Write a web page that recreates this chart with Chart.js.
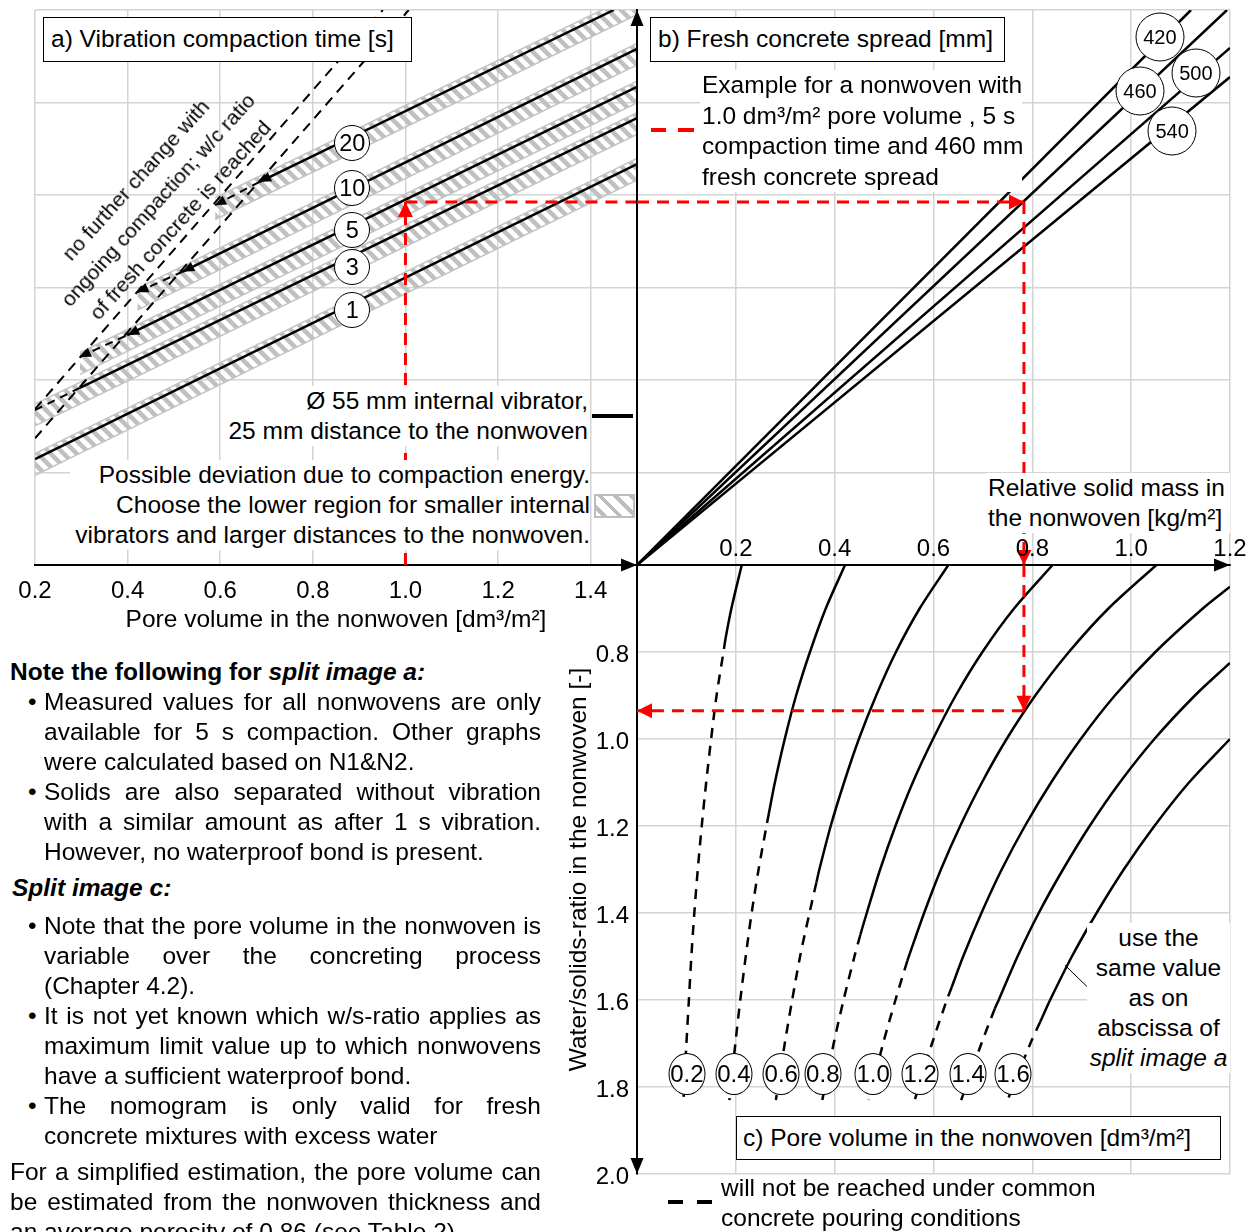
<!DOCTYPE html>
<html>
<head>
<meta charset="utf-8">
<title>Nomogram</title>
<script src="https://cdn.jsdelivr.net/npm/chart.js"></script>
<style>
  body { margin: 0; background: #fff; }
  #page { position: relative; width: 1252px; height: 1232px; overflow: hidden; font-family: "Liberation Sans", Arial, sans-serif; color: #000; }
  .wrap { position: absolute; }
  .wrap canvas { display: block; }
  .t { position: absolute; font-size: 24.5px; line-height: 30px; white-space: nowrap; z-index: 5; }
  .bg { background: #fff; }
  .box { position: absolute; box-sizing: border-box; border: 1.5px solid #000; background: #fff; font-size: 24.5px; line-height: 41px; padding-left: 7px; white-space: nowrap; z-index: 5; }
  .ring { position: absolute; transform: translate(-50%, -50%); box-sizing: border-box; border: 1.5px solid #000; border-radius: 50%; background: #fff; display: flex; align-items: center; justify-content: center; white-space: nowrap; z-index: 3; }
  .ring.a { width: 36px; height: 36px; font-size: 23.5px; }
  .ring.b { width: 49px; height: 49px; font-size: 20px; }
  .ring.c { width: 37px; height: 42px; font-size: 24px; }
  .rot { transform: translate(-50%, -50%) rotate(-48deg); font-size: 21px; text-align: center; }
  .mark { position: absolute; z-index: 5; }
  .hatch { position: absolute; z-index: 5; box-sizing: border-box; border: 2px solid #bdbdbd; background: repeating-linear-gradient(45deg, #fff 0 4px, #bdbdbd 4px 8px, #fff 8px 11px); }
  .note { position: absolute; font-size: 24.5px; line-height: 30px; white-space: nowrap; }
  .note div { height: 30px; }
  .j { text-align: justify; text-align-last: justify; }
  .dot { position: absolute; font-size: 24.5px; line-height: 30px; }
</style>
</head>
<body>
<div id="page">
  <div class="wrap" style="left:0;top:0"><canvas id="chartA" width="660" height="645"></canvas></div>
  <div class="wrap" style="left:600px;top:0"><canvas id="chartB" width="652" height="600"></canvas></div>
  <div class="wrap" style="left:540px;top:520px"><canvas id="chartC" width="712" height="712"></canvas></div>

  <div class="box" style="left:43px;top:17px;width:369px;height:45px">a) Vibration compaction time [s]</div>
  <div class="t rot" style="left:158px;top:200px">no further change with<br>ongoing compaction; w/c ratio<br>of fresh concrete is reached</div>
  <div class="t bg" style="left:222px;top:386px;width:366px;text-align:right">Ø 55 mm internal vibrator,<br>25 mm distance to the nonwoven</div>
  <div class="t bg" style="left:70px;top:460px;width:520px;text-align:right">Possible deviation due to compaction energy.<br>Choose the lower region for smaller internal<br>vibrators and larger distances to the nonwoven.</div>
  <div class="mark" style="left:592px;top:414px;width:41px;height:3.5px;background:#000"></div>
  <div class="hatch" style="left:594px;top:494px;width:41px;height:24px"></div>

  <div class="box" style="left:650px;top:17px;width:355px;height:45px">b) Fresh concrete spread [mm]</div>
  <div class="t bg" style="left:700px;top:70px;width:322px;line-height:30.5px;padding-left:2px;box-sizing:border-box">Example for a nonwoven with<br>1.0 dm³/m² pore volume , 5 s<br>compaction time and 460 mm<br>fresh concrete spread</div>
  <div class="mark" style="left:651px;top:128px;width:15px;height:3.5px;background:#f00"></div>
  <div class="mark" style="left:678px;top:128px;width:16px;height:3.5px;background:#f00"></div>
  <div class="t bg" style="left:986px;top:473px;width:244px;padding-left:2px;box-sizing:border-box">Relative solid mass in<br>the nonwoven [kg/m²]</div>

  <div class="t bg" style="left:1087px;top:923px;width:143px;text-align:center">use the<br>same value<br>as on<br>abscissa of<br><i>split image a</i></div>
  <div class="box" style="left:736px;top:1116px;width:485px;height:44px;padding-left:6px">c) Pore volume in the nonwoven [dm³/m²]</div>
  <div class="mark" style="left:668px;top:1200px;width:15px;height:3.5px;background:#000"></div>
  <div class="mark" style="left:697px;top:1200px;width:15px;height:3.5px;background:#000"></div>
  <div class="t" style="left:721px;top:1173px">will not be reached under common<br>concrete pouring conditions</div>

  <div class="note" style="left:10px;top:657px"><b>Note the following for <i>split image a:</i></b></div>
  <div class="dot" style="left:28px;top:687px">•</div>
  <div class="note" style="left:44px;top:687px;width:497px">
    <div class="j">Measured values for all nonwovens are only</div>
    <div class="j">available for 5 s compaction. Other graphs</div>
    <div>were calculated based on N1&amp;N2.</div>
  </div>
  <div class="dot" style="left:28px;top:777px">•</div>
  <div class="note" style="left:44px;top:777px;width:497px">
    <div class="j">Solids are also separated without vibration</div>
    <div class="j">with a similar amount as after 1 s vibration.</div>
    <div>However, no waterproof bond is present.</div>
  </div>
  <div class="note" style="left:12px;top:873px"><b><i>Split image c:</i></b></div>
  <div class="dot" style="left:28px;top:911px">•</div>
  <div class="note" style="left:44px;top:911px;width:497px">
    <div class="j">Note that the pore volume in the nonwoven is</div>
    <div class="j">variable over the concreting process</div>
    <div>(Chapter 4.2).</div>
  </div>
  <div class="dot" style="left:28px;top:1001px">•</div>
  <div class="note" style="left:44px;top:1001px;width:497px">
    <div class="j">It is not yet known which w/s-ratio applies as</div>
    <div class="j">maximum limit value up to which nonwovens</div>
    <div>have a sufficient waterproof bond.</div>
  </div>
  <div class="dot" style="left:28px;top:1091px">•</div>
  <div class="note" style="left:44px;top:1091px;width:497px">
    <div class="j">The nomogram is only valid for fresh</div>
    <div>concrete mixtures with excess water</div>
  </div>
  <div class="note" style="left:10px;top:1157px;width:531px">
    <div class="j">For a simplified estimation, the pore volume can</div>
    <div class="j">be estimated from the nonwoven thickness and</div>
    <div>an average porosity of 0.86 (see Table 2).</div>
  </div>
</div>
<script>
// ---- panel a: pore volume -> common ordinate, per compaction time
const poreTicks = [0.2, 0.4, 0.6, 0.8, 1.0, 1.2, 1.4];
const ordTicks = [0, 0.2, 0.4, 0.6, 0.8, 1.0, 1.2];
const timeLabels = ['20', '10', '5', '3', '1'];
const timeLabelX = [0.885, 0.885, 0.885, 0.885, 0.885];
const timeLabelY = [0.912, 0.815, 0.724, 0.644, 0.551];
const line20 = [[0.684, 0.828], [1.45, 1.2]];
const line10 = [[0.518, 0.634], [1.5, 1.116]];
const line5 = [[0.399, 0.497], [1.5, 1.034]];
const line3 = [[0.297, 0.383], [1.5, 0.966]];
const line1 = [[0.2, 0.229], [1.5, 0.867]];
const run20 = [[0.589, 0.778], [0.684, 0.828]];
const run10 = [[0.421, 0.590], [0.518, 0.634]];
const run5 = [[0.297, 0.450], [0.399, 0.497]];
const run3 = [[0.2, 0.335], [0.297, 0.383]];
const limitOuter = [[0.2, 0.337], [0.951, 1.2]];
const limitInner = [[0.2, 0.274], [1.007, 1.2]];
const band20Hi = [[0.589, 0.794], [1.5, 1.237]], band20Lo = [[0.589, 0.747], [1.5, 1.190]];
const band10Hi = [[0.421, 0.598], [1.5, 1.128]], band10Lo = [[0.421, 0.551], [1.5, 1.081]];
const band5Hi = [[0.297, 0.459], [1.5, 1.046]], band5Lo = [[0.297, 0.412], [1.5, 0.999]];
const band3Hi = [[0.2, 0.348], [1.5, 0.978]], band3Lo = [[0.2, 0.301], [1.5, 0.931]];
const band1Hi = [[0.2, 0.241], [1.5, 0.879]], band1Lo = [[0.2, 0.194], [1.5, 0.832]];

// ---- panel b: ordinate -> relative solid mass, per fresh concrete spread
const massTicks = [0, 0.2, 0.4, 0.6, 0.8, 1.0, 1.2];
const spreadLabels = ['420', '460', '500', '540'];
const spreadLabelX = [1.058, 1.018, 1.131, 1.083];
const spreadLabelY = [1.142, 1.025, 1.064, 0.938];
const spread420 = [[0, 0], [1.121, 1.2]];
const spread460 = [[0, 0], [1.194, 1.2]];
const spread500 = [[0, 0], [1.2, 1.118]];
const spread540 = [[0, 0], [1.2, 1.055]];

// ---- panel c: relative solid mass -> water/solids ratio, per pore volume
const wsTicks = [0.6, 0.8, 1.0, 1.2, 1.4, 1.6, 1.8, 2.0];
const poreLabels = ['0.2', '0.4', '0.6', '0.8', '1.0', '1.2', '1.4', '1.6'];
const poreLabelX = [0.101, 0.196, 0.292, 0.376, 0.478, 0.573, 0.670, 0.761];
const poreLabelY = [1.77, 1.77, 1.77, 1.77, 1.77, 1.77, 1.77, 1.77];
const ws02 = [[0.212, 0.6], [0.191, 0.7], [0.179, 0.77], [0.175, 0.8], [0.161, 0.9], [0.150, 1.0], [0.140, 1.1], [0.131, 1.2], [0.123, 1.3], [0.116, 1.4], [0.110, 1.5], [0.105, 1.6], [0.100, 1.7], [0.094, 1.83]];
const ws04 = [[0.421, 0.6], [0.382, 0.7], [0.350, 0.8], [0.322, 0.9], [0.299, 1.0], [0.279, 1.1], [0.267, 1.17], [0.262, 1.2], [0.246, 1.3], [0.232, 1.4], [0.220, 1.5], [0.209, 1.6], [0.199, 1.7], [0.187, 1.83]];
const ws06 = [[0.630, 0.6], [0.572, 0.7], [0.524, 0.8], [0.484, 0.9], [0.449, 1.0], [0.419, 1.1], [0.392, 1.2], [0.369, 1.3], [0.363, 1.33], [0.349, 1.4], [0.330, 1.5], [0.314, 1.6], [0.299, 1.7], [0.281, 1.83]];
const ws08 = [[0.841, 0.6], [0.763, 0.7], [0.699, 0.8], [0.645, 0.9], [0.599, 1.0], [0.558, 1.1], [0.523, 1.2], [0.492, 1.3], [0.465, 1.4], [0.452, 1.45], [0.440, 1.5], [0.418, 1.6], [0.398, 1.7], [0.375, 1.83]];
const ws10 = [[1.051, 0.6], [0.954, 0.7], [0.874, 0.8], [0.806, 0.9], [0.748, 1.0], [0.698, 1.1], [0.654, 1.2], [0.615, 1.3], [0.581, 1.4], [0.550, 1.5], [0.547, 1.51], [0.523, 1.6], [0.498, 1.7], [0.469, 1.83]];
const ws12 = [[1.2, 0.65], [1.145, 0.7], [1.049, 0.8], [0.967, 0.9], [0.898, 1.0], [0.838, 1.1], [0.785, 1.2], [0.738, 1.3], [0.697, 1.4], [0.660, 1.5], [0.637, 1.57], [0.627, 1.6], [0.597, 1.7], [0.562, 1.83]];
const ws14 = [[1.2, 0.825], [1.129, 0.9], [1.047, 1.0], [0.977, 1.1], [0.916, 1.2], [0.862, 1.3], [0.813, 1.4], [0.770, 1.5], [0.732, 1.6], [0.724, 1.62], [0.697, 1.7], [0.656, 1.83]];
const ws16 = [[1.2, 1.0], [1.117, 1.1], [1.047, 1.2], [0.985, 1.3], [0.930, 1.4], [0.880, 1.5], [0.836, 1.6], [0.816, 1.65], [0.796, 1.7], [0.750, 1.83]];
const wsDashFrom = [0.77, 1.17, 1.33, 1.45, 1.51, 1.57, 1.62, 1.65];
const leader = [[0.866, 1.52], [0.935, 1.596]];

// ---- worked example (red)
const exA = [[1.0, 0], [1.0, 0.785]];
const exA2 = [[1.0, 0.785], [1.5, 0.785]];
const exB = [[0, 0.785], [0.783, 0.785]];
const exB2 = [[0.783, 0.785], [0.783, 0]];
const exC = [[0.783, 0.6], [0.783, 0.935]];
const exC2 = [[0.783, 0.935], [0, 0.935]];

const gridCol = '#d4d4d4';
const RED = '#ff0000';
Chart.defaults.font.family = '"Liberation Sans", Arial, sans-serif';
Chart.defaults.font.size = 24;
Chart.defaults.color = '#000';
Chart.defaults.animation = false;
Chart.defaults.events = [];
Chart.defaults.plugins.legend.display = false;
Chart.defaults.plugins.tooltip.enabled = false;
Chart.defaults.elements.point.radius = 0;

function triangle(ctx, x, y, ang, len, half, color) {
    ctx.save();
    ctx.translate(x, y);
    ctx.rotate(ang);
    ctx.fillStyle = color;
    ctx.beginPath();
    ctx.moveTo(0, 0);
    ctx.lineTo(-len, -half);
    ctx.lineTo(-len, half);
    ctx.closePath();
    ctx.fill();
    ctx.restore();
}
const arrowHeads = {
    id: 'arrowHeads',
    afterDatasetsDraw(chart) {
        chart.data.datasets.forEach((ds, i) => {
            if (!ds.arrow) return;
            const pts = chart.getDatasetMeta(i).data, n = pts.length;
            const [from, tip] = ds.arrow === 'start' ? [pts[1], pts[0]] : [pts[n - 2], pts[n - 1]];
            const [len, half] = ds.arrowSize || [12, 5];
            triangle(chart.ctx, tip.x, tip.y, Math.atan2(tip.y - from.y, tip.x - from.x), len, half, ds.borderColor);
        });
    }
};
const axisArrows = list => ({
    id: 'axisArrows',
    afterDraw(chart) {
        const a = chart.chartArea;
        list.forEach(([kx, ky, ang]) => triangle(chart.ctx, a[kx], a[ky], ang, 16, 6.5, '#000'));
    }
});

const ln = (data, color, width, extra) => Object.assign({ data, borderColor: color, borderWidth: width, fill: false, tension: 0 }, extra || {});
const scale = (min, max, ticks, extra) => Object.assign({
    type: 'linear', min, max,
    afterBuildTicks: s => { s.ticks = ticks.map(v => ({ value: v })); },
    grid: { color: gridCol, lineWidth: 1.5, drawTicks: false },
    border: { color: '#000', width: 2 },
    ticks: { display: false }
}, extra);
const baseOpts = (padding, scales) => ({ responsive: false, maintainAspectRatio: false, devicePixelRatio: 1, layout: { padding }, scales });

function hatchPattern(ctx) {
    const c = document.createElement('canvas');
    c.width = c.height = 13;
    const g = c.getContext('2d');
    g.strokeStyle = '#c0c0c0';
    g.lineWidth = 4.5;
    g.beginPath();
    g.moveTo(-3, -3); g.lineTo(16, 16);
    g.moveTo(-3, 10); g.lineTo(3, 16);
    g.moveTo(10, -3); g.lineTo(16, 3);
    g.stroke();
    return ctx.createPattern(c, 'repeat');
}

function addRings(chart, texts, xs, ys, cls) {
    const wrap = chart.canvas.parentNode;
    texts.forEach((t, i) => {
        const el = document.createElement('div');
        el.className = 'ring ' + cls;
        el.textContent = t;
        el.style.left = chart.scales.x.getPixelForValue(xs[i]) + 'px';
        el.style.top = chart.scales.y.getPixelForValue(ys[i]) + 'px';
        wrap.appendChild(el);
    });
}

// panel a
const ctxA = document.getElementById('chartA').getContext('2d');
const hatch = hatchPattern(ctxA);
const redDash = { borderDash: [12, 8], arrowSize: [15, 7.5] };
const runDash = { borderDash: [8, 6], arrowSize: [11, 5] };
const bandPair = (hi, lo) => [
    ln(hi, '#c4c4c4', 1.5),
    ln(lo, '#c4c4c4', 1.5, { fill: '-1', backgroundColor: hatch })
];
const chartA = new Chart(ctxA, {
    type: 'line',
    data: {
        datasets: [
            ln(exA, RED, 3, Object.assign({ arrow: 'end' }, redDash)),
            ln(exA2, RED, 3, redDash),
            ln(line20, '#000', 2.5, { arrow: 'start', arrowSize: [12, 5] }),
            ln(line10, '#000', 2.5, { arrow: 'start', arrowSize: [12, 5] }),
            ln(line5, '#000', 2.5, { arrow: 'start', arrowSize: [12, 5] }),
            ln(line3, '#000', 2.5),
            ln(line1, '#000', 2.5),
            ln(run20, '#000', 2, Object.assign({ arrow: 'start' }, runDash)),
            ln(run10, '#000', 2, Object.assign({ arrow: 'start' }, runDash)),
            ln(run5, '#000', 2, Object.assign({ arrow: 'start' }, runDash)),
            ln(run3, '#000', 2, runDash),
            ln(limitOuter, '#000', 2, { borderDash: [10, 7] }),
            ln(limitInner, '#000', 2, { borderDash: [10, 7] }),
            ...bandPair(band20Hi, band20Lo),
            ...bandPair(band10Hi, band10Lo),
            ...bandPair(band5Hi, band5Lo),
            ...bandPair(band3Hi, band3Lo),
            ...bandPair(band1Hi, band1Lo)
        ]
    },
    options: baseOpts({ left: 35, top: 10, right: 23, bottom: 0 }, {
        x: scale(0.2, 1.5, poreTicks, {
            ticks: { display: true, padding: 12, autoSkip: false, maxRotation: 0, callback: v => v.toFixed(1) },
            title: { display: true, text: 'Pore volume in the nonwoven [dm³/m²]', font: { size: 24.5 }, padding: { top: 0, bottom: 10 } },
            afterFit: s => { s.height = 80; }
        }),
        y: scale(0, 1.2, ordTicks, { border: { display: false }, afterFit: s => { s.width = 0; } })
    }),
    plugins: [arrowHeads, axisArrows([['right', 'bottom', 0]])]
});
addRings(chartA, timeLabels, timeLabelX, timeLabelY, 'a');

// panel b
const chartB = new Chart(document.getElementById('chartB'), {
    type: 'line',
    data: {
        datasets: [
            ln(exB, RED, 3, Object.assign({ arrow: 'end' }, redDash)),
            ln(exB2, RED, 3, Object.assign({ arrow: 'end' }, redDash)),
            ln(spread420, '#000', 2.5),
            ln(spread460, '#000', 2.5),
            ln(spread500, '#000', 2.5),
            ln(spread540, '#000', 2.5)
        ]
    },
    options: baseOpts({ left: 37, top: 10, right: 22, bottom: 35 }, {
        x: scale(0, 1.2, massTicks, { afterFit: s => { s.height = 0; } }),
        y: scale(0, 1.2, ordTicks, { afterFit: s => { s.width = 0; } })
    }),
    plugins: [arrowHeads, axisArrows([['left', 'top', -Math.PI / 2], ['right', 'bottom', 0]])]
});
addRings(chartB, spreadLabels, spreadLabelX, spreadLabelY, 'b');

// panel c
const curveSet = [ws02, ws04, ws06, ws08, ws10, ws12, ws14, ws16].map((d, i) => ln(d, '#000', 2.5, {
    tension: 0.3,
    segment: { borderDash: c => c.p0.parsed.y >= wsDashFrom[i] - 1e-6 ? [10, 8] : undefined }
}));
const chartC = new Chart(document.getElementById('chartC'), {
    type: 'line',
    data: {
        datasets: [
            ln(exC, RED, 3, Object.assign({ arrow: 'end' }, redDash)),
            ln(exC2, RED, 3, Object.assign({ arrow: 'end' }, redDash)),
            ln(leader, '#000', 1),
            ...curveSet
        ]
    },
    options: baseOpts({ left: 0, top: 0, right: 22, bottom: 58 }, {
        x: scale(0, 1.2, massTicks, {
            position: 'top',
            ticks: { display: true, padding: 1, autoSkip: false, maxRotation: 0, callback: v => v === 0 ? '' : v.toFixed(1) },
            afterFit: s => { s.height = 45; }
        }),
        y: scale(0.6, 2.0, wsTicks, {
            reverse: true,
            ticks: { display: true, padding: 8, labelOffset: 3, autoSkip: false, callback: v => v === 0.6 ? '' : v.toFixed(1) },
            title: { display: true, text: 'Water/solids-ratio in the nonwoven [-]', font: { size: 24.5 }, padding: { top: 25, bottom: 0 } },
            afterFit: s => { s.width = 97; }
        })
    }),
    plugins: [arrowHeads, axisArrows([['left', 'bottom', Math.PI / 2]])]
});
addRings(chartC, poreLabels, poreLabelX, poreLabelY, 'c');
</script>
</body>
</html>
